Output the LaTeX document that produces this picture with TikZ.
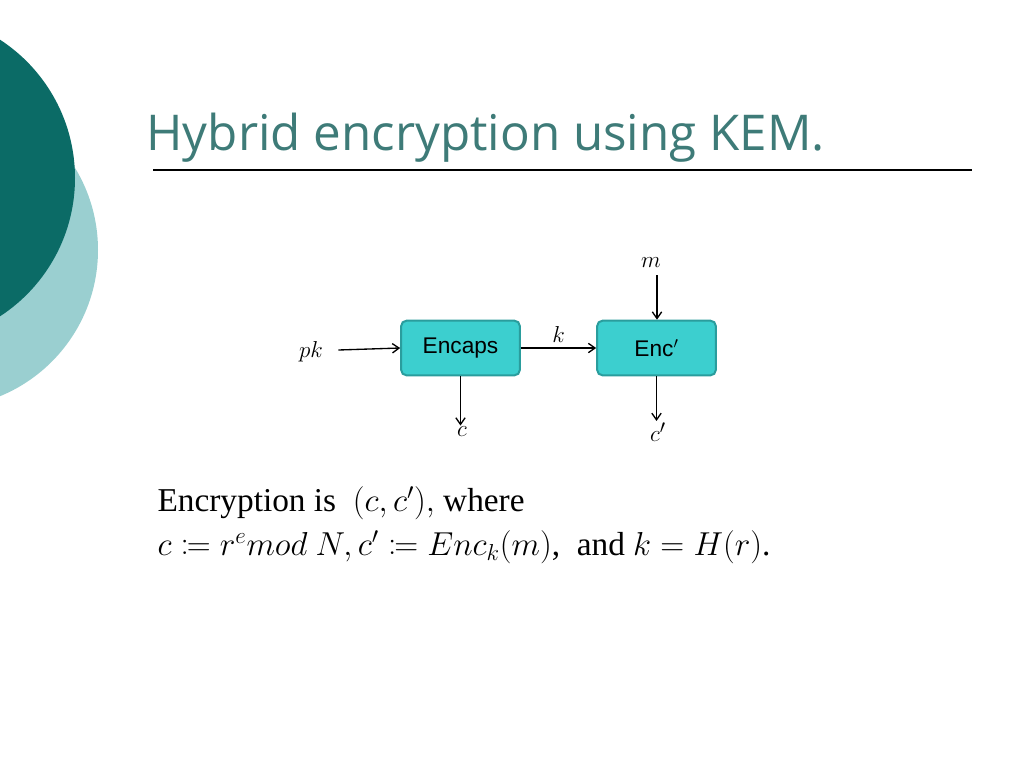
\documentclass[tikz,border=0pt]{standalone}
\usepackage{fontspec}
\usepackage{mathtools}
\setmainfont{Liberation Serif}
\newfontfamily\titlefont{Open Sans}
\newfontfamily\boxfont{Liberation Sans}
\usetikzlibrary{arrows.meta}
\definecolor{darkteal}{HTML}{0B6B66}
\definecolor{lightteal}{HTML}{9ACFD0}
\definecolor{titleteal}{HTML}{3E7B78}
\definecolor{boxfill}{HTML}{3CCFCF}
\definecolor{boxline}{HTML}{2A9D9D}
\tikzset{every picture/.style={line width=0.75pt}}
\tikzset{
  kembox/.style={draw=boxline,fill=boxfill,line width=1.5pt,rounded corners=4pt,minimum width=89pt,minimum height=41pt,font=\boxfont\fontsize{17}{19}\selectfont},
  kemlabel/.style={inner sep=0.75pt,font=\fontsize{19}{21}\selectfont},
  kemarrow/.style={-{Straight Barb[length=5pt,width=7pt]},line width=1pt}
}
\begin{document}
\begin{tikzpicture}[x=0.75pt,y=0.75pt,yscale=-1,xscale=1]
\useasboundingbox (0,0) rectangle (1024,768);
\clip (0,0) rectangle (1024,768);
%Shapes: background circles
\fill[lightteal] (-60,250) circle (158);
\fill[darkteal] (-90,178) circle (165);
% Title
\node[anchor=west,inner sep=0pt,text=titleteal,font=\titlefont\fontsize{37}{42}\selectfont] (title) at (146,138) {Hybrid encryption using KEM.};
\draw[line width=1pt] (153,170) -- (972,170);
% Boxes
\node[kembox] (encaps) at (460.5,348) {Encaps};
\node[kembox] (enc) at (656.5,348) {Enc$'$};
% Text Node
\node[kemlabel] (pk) at (311,352) {$pk$};
\node[kemlabel] (m) at (651,263) {$m$};
\node[kemlabel] (c) at (462,432) {$c$};
\node[kemlabel] (cp) at (658,432) {$c'$};
\draw[kemarrow] (pk.east) ++(14,-2) coordinate (pkstart) -- (encaps.west);
\draw[kemarrow] (encaps) -- node[kemlabel,above=3pt] (k) {$k$} (enc);
\draw[kemarrow] (m.south) ++(6,6) coordinate (mstart) -- (enc.north -| mstart);
\draw[kemarrow] (encaps.south) -- (encaps.south |- c.north);
\draw[kemarrow] (enc.south) -- (enc.south |- cp.north);
% Text Node
\node[anchor=north west,inner sep=0pt,align=left,font=\fontsize{25}{33}\selectfont] (expl) at (157,486)
  {Encryption is~ $(c,c'),$ where\\
   $c \coloneqq r^{e} mod\ N, c' \coloneqq Enc_{k}(m)$,~ and $k=H(r)$.};
\end{tikzpicture}
\end{document}
